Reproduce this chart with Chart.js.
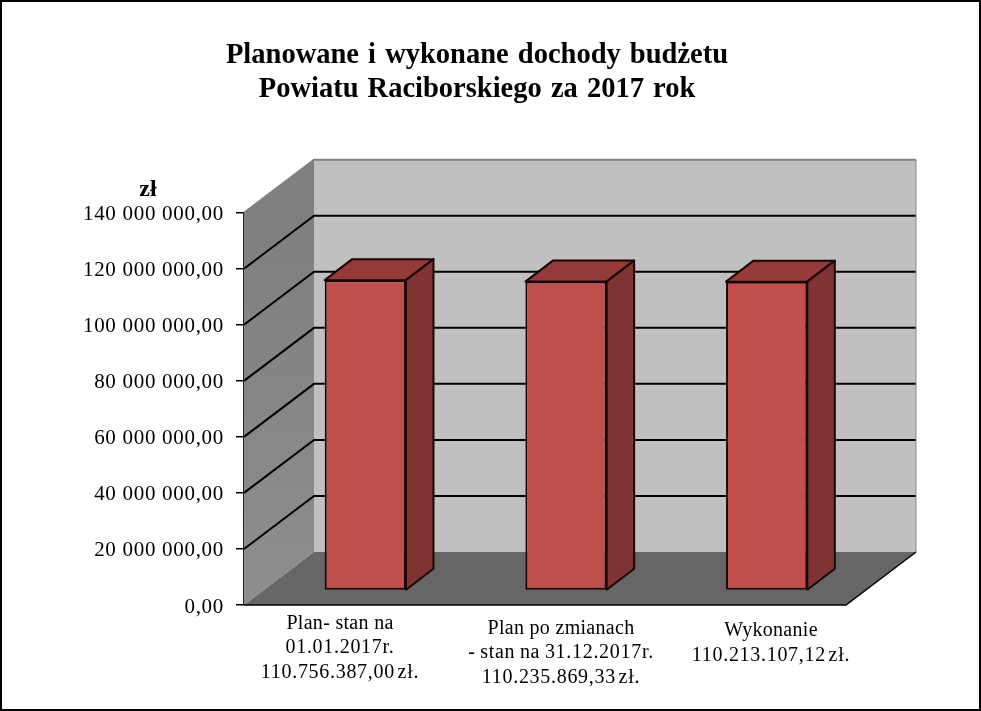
<!DOCTYPE html>
<html>
<head>
<meta charset="utf-8">
<script src="https://cdn.jsdelivr.net/npm/chart.js@4/dist/chart.umd.js"></script>
<style>
  html, body { margin: 0; padding: 0; background: #fff; overflow: hidden; }
  canvas { display: block; }
</style>
</head>
<body>
<canvas id="chart" width="981" height="711"></canvas>
<script>
const categories = ['Plan', 'Plan po zmianach', 'Wykonanie'];
const values = [110756387.00, 110235869.33, 110213107.12];
const categoryLines = [
  ['Plan- stan na', '01.01.2017r.', '110.756.387,00 zł.'],
  ['Plan po zmianach', '- stan na 31.12.2017r.', '110.235.869,33 zł.'],
  ['Wykonanie', '110.213.107,12 zł.']
];
const titleLines = ['Planowane i wykonane dochody budżetu', 'Powiatu Raciborskiego za 2017 rok'];

const serif = '"Liberation Serif", "Times New Roman", serif';
const wallDx = 70, wallDy = -53;     // depth of the 3D box
const barShiftX = 21, barShiftY = -14.5;
const barDx = 27.5, barDy = -21;
const labelCentres = [340, 561, 771];
const labelBaselines = [628.5, 633.5, 636];

function poly(ctx, pts, fill, stroke, lw) {
  ctx.beginPath();
  pts.forEach((p, i) => i ? ctx.lineTo(p[0], p[1]) : ctx.moveTo(p[0], p[1]));
  ctx.closePath();
  if (fill) { ctx.fillStyle = fill; ctx.fill(); }
  if (stroke) { ctx.strokeStyle = stroke; ctx.lineWidth = lw || 1; ctx.stroke(); }
}

const box3d = {
  id: 'box3d',
  beforeDraw(chart) {
    chart.ctx.letterSpacing = '0.7px';
  },
  beforeDatasetsDraw(chart) {
    const { ctx, chartArea: a, scales: { y } } = chart;
    const l = a.left, r = a.right, t = a.top, b = a.bottom;
    ctx.save();
    // walls and floor
    poly(ctx, [[l + wallDx, t + wallDy], [r + wallDx, t + wallDy], [r + wallDx, b + wallDy], [l + wallDx, b + wallDy]], '#c0c0c0');
    const side = ctx.createLinearGradient(0, t, 0, b);
    side.addColorStop(0, '#7f7f7f');
    side.addColorStop(1, '#8e8e8e');
    poly(ctx, [[l, t], [l + wallDx, t + wallDy], [l + wallDx, b + wallDy], [l, b]], side);
    poly(ctx, [[l, b], [l + wallDx, b + wallDy], [r + wallDx, b + wallDy], [r, b]], '#666666');
    // grid lines run across the side wall and the back wall
    y.ticks.forEach(tick => {
      if (tick.value === 0) return;
      const py = y.getPixelForValue(tick.value);
      const top = tick.value === y.max;
      ctx.beginPath();
      ctx.moveTo(l, py);
      ctx.lineTo(l + wallDx, py + wallDy);
      ctx.lineTo(r + wallDx, py + wallDy);
      ctx.strokeStyle = top ? '#808080' : '#000';
      ctx.lineWidth = 2;
      ctx.stroke();
    });
    ctx.beginPath();
    ctx.moveTo(r + wallDx, t + wallDy);
    ctx.lineTo(r + wallDx, b + wallDy);
    ctx.strokeStyle = '#8c8c8c';
    ctx.lineWidth = 1;
    ctx.stroke();
    // front and right edge of the floor
    ctx.beginPath();
    ctx.moveTo(l, b);
    ctx.lineTo(r, b);
    ctx.lineTo(r + wallDx, b + wallDy);
    ctx.strokeStyle = '#000';
    ctx.lineWidth = 1.5;
    ctx.stroke();
    ctx.restore();
    // the bars stand inside the box
    ctx.save();
    ctx.translate(barShiftX, barShiftY);
  },
  afterDatasetsDraw(chart) {
    const { ctx } = chart;
    chart.getDatasetMeta(0).data.forEach(bar => {
      const { x, y, base, width } = bar.getProps(['x', 'y', 'base', 'width'], true);
      const l = x - width / 2, r = x + width / 2;
      ctx.lineJoin = 'round';
      poly(ctx, [[l, y], [l + barDx, y + barDy], [r + barDx, y + barDy], [r, y]], '#953a38', '#1a0505', 2);
      poly(ctx, [[r, y], [r + barDx, y + barDy], [r + barDx, base + barDy], [r, base]], '#7f3433', '#1a0505', 2);
    });
    ctx.restore();
    ctx.save();
    ctx.fillStyle = '#000';
    ctx.textAlign = 'center';
    ctx.textBaseline = 'alphabetic';
    ctx.font = '20px ' + serif;
    categoryLines.forEach((lines, i) => {
      lines.forEach((line, j) => {
        ctx.letterSpacing = /\d/.test(line) ? '0.7px' : '0.3px';
        ctx.wordSpacing = line.includes('zł') ? '-3px' : (/\d/.test(line) ? '-1px' : '0px');
        ctx.fillText(line, labelCentres[i], labelBaselines[i] + j * 24.5);
      });
    });
    // unit above the value axis
    ctx.font = 'bold 24px ' + serif;
    ctx.letterSpacing = '0px';
    ctx.wordSpacing = '0px';
    ctx.fillText('zł', 148, 196);
    // title
    ctx.font = 'bold 28.5px ' + serif;
    ctx.wordSpacing = '2px';
    ctx.fillText(titleLines[0], 477, 63);
    ctx.fillText(titleLines[1], 477, 97);
    // outer frame
    ctx.strokeStyle = '#000';
    ctx.lineWidth = 2;
    ctx.strokeRect(1, 1, 979, 709);
    ctx.restore();
  }
};

new Chart(document.getElementById('chart'), {
  type: 'bar',
  data: {
    labels: categories,
    datasets: [{
      data: values,
      backgroundColor: '#c0504d',
      borderColor: '#1a0505',
      borderWidth: 2,
      borderSkipped: false,
      categoryPercentage: 1,
      barPercentage: 0.405
    }]
  },
  options: {
    responsive: false,
    animation: false,
    layout: { padding: { left: 0, right: 135, top: 212.7, bottom: 0 } },
    plugins: { legend: { display: false }, title: { display: false }, tooltip: { enabled: false } },
    scales: {
      x: {
        grid: { display: false },
        border: { display: false },
        ticks: { display: false },
        afterFit(scale) { scale.height = 106; }
      },
      y: {
        min: 0,
        max: 140000000,
        afterFit(scale) { scale.width = 244; },
        grid: { drawOnChartArea: false, color: '#000', lineWidth: 1.5, tickLength: 8 },
        border: { display: true, color: '#222', width: 2 },
        ticks: {
          stepSize: 20000000,
          color: '#000',
          padding: 12,
          labelOffset: 2,
          font: { family: serif, size: 21 },
          callback: v => v.toString().replace(/\B(?=(\d{3})+$)/g, ' ') + ',00'
        }
      }
    }
  },
  plugins: [box3d]
});
</script>
</body>
</html>
